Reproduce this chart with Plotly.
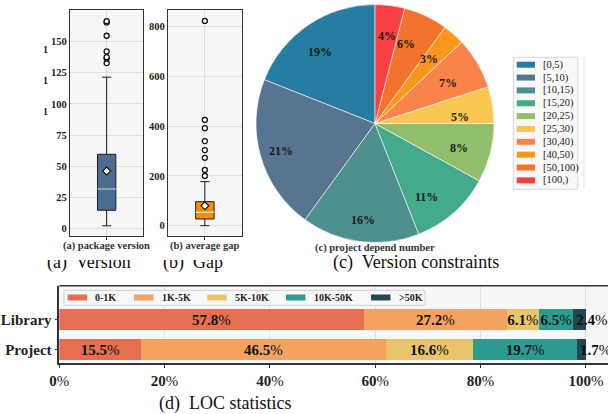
import math
import plotly.graph_objects as go

W, H = 608, 414
FONT = "Liberation Serif"

# ---------------- data ----------------
pkg_q = dict(low=2, q1=14.5, med=31.5, q3=59.5, high=121.5, mean=46)
pkg_outliers = [132.8, 136.6, 137.6, 142.2, 154.8, 165.5, 166.5]
pkg_ticks = [0, 25, 50, 75, 100, 125, 150]

gap_q = dict(low=0, q1=27, med=54, q3=96.5, high=177, mean=80)
gap_outliers = [200, 224, 273, 304, 340, 392, 425, 823]
gap_ticks = [0, 200, 400, 600, 800]

pie_labels = ["[0,5)", "[5,10)", "[10,15)", "[15,20)", "[20,25)",
              "[25,30)", "[30,40)", "[40,50)", "[50,100)", "[100,)"]
pie_values = [19, 21, 16, 11, 8, 5, 7, 3, 6, 4]

loc_groups = ["Library", "Project"]
loc_bins = ["0-1K", "1K-5K", "5K-10K", "10K-50K", ">50K"]
loc_library = [57.8, 27.2, 6.1, 6.5, 2.4]
loc_project = [15.5, 46.5, 16.6, 19.7, 1.7]
loc_ticks = [0, 20, 40, 60, 80, 100]

# ---------------- styles ----------------
pie_colors = ["#277da1", "#577590", "#4d908e", "#43aa8b", "#90be6d",
              "#f9c74f", "#f9844a", "#f8961e", "#f3722c", "#f94144"]
loc_colors = ["#e76f51", "#f4a261", "#e9c46a", "#2a9d8f", "#264653"]


def px(x):
    return x / W


def py(y):
    return 1 - y / H


fig = go.Figure()

# ---------------- box plots ----------------
BOX_W = 0.25
box_specs = [
    (pkg_q, pkg_outliers, "#4a6e91", "#a9c3da", "x", "y"),
    (gap_q, gap_outliers, "#ff8c00", "#ffe3bd", "x2", "y2"),
]
for q, outl, fillc, medc, xa, ya in box_specs:
    fig.add_trace(go.Box(
        x=[1], q1=[q["q1"]], median=[q["med"]], q3=[q["q3"]],
        lowerfence=[q["low"]], upperfence=[q["high"]],
        width=BOX_W, whiskerwidth=0.5, fillcolor=fillc,
        line=dict(color="#1a1a1a", width=1), boxpoints=False,
        xaxis=xa, yaxis=ya, showlegend=False, hoverinfo="skip"))
    fig.add_trace(go.Scatter(
        x=[1 - BOX_W / 2, 1 + BOX_W / 2], y=[q["med"], q["med"]],
        mode="lines", line=dict(color=medc, width=1.5),
        xaxis=xa, yaxis=ya, showlegend=False, hoverinfo="skip"))
    fig.add_trace(go.Scatter(
        x=[1] * len(outl), y=outl, mode="markers",
        marker=dict(symbol="circle", size=5, color="white",
                    line=dict(color="#111", width=1.3)),
        xaxis=xa, yaxis=ya, showlegend=False, hoverinfo="skip"))
    fig.add_trace(go.Scatter(
        x=[1], y=[q["mean"]], mode="markers",
        marker=dict(symbol="diamond", size=6, color="white",
                    line=dict(color="#111", width=1.2)),
        xaxis=xa, yaxis=ya, showlegend=False, hoverinfo="skip"))

box_axis_common = dict(showline=True, mirror=True, linecolor="#333",
                       linewidth=1.2, gridcolor="#dedede", zeroline=False)
ydom_box = [py(236), py(10)]
fig.update_layout(
    xaxis=dict(domain=[px(70), px(143.3)], range=[0.5, 1.5], tickvals=[1],
               showticklabels=False, ticks="outside", ticklen=3,
               tickcolor="#333", anchor="y", **box_axis_common),
    yaxis=dict(domain=ydom_box, range=[-6.2, 175.5], tickvals=pkg_ticks,
               anchor="x", tickfont=dict(family=FONT, size=10.5, color="#222",
                                         weight="bold"),
               **box_axis_common),
    xaxis2=dict(domain=[px(168), px(241.7)], range=[0.5, 1.5], tickvals=[1],
                showticklabels=False, ticks="outside", ticklen=3,
                tickcolor="#333", anchor="y2", **box_axis_common),
    yaxis2=dict(domain=ydom_box, range=[-41.4, 867], tickvals=gap_ticks,
                anchor="x2", tickfont=dict(family=FONT, size=10.5, color="#222",
                                           weight="bold"),
                **box_axis_common),
)

# ---------------- pie ----------------
pie_cx, pie_cy, pie_r = 375, 123.5, 119
pie_dom_x = [px(pie_cx - pie_r), px(pie_cx + pie_r)]
pie_dom_y = [py(pie_cy + pie_r), py(pie_cy - pie_r)]
total = sum(pie_values)
# first slice starts at 12 o'clock and runs counterclockwise
fig.add_trace(go.Pie(
    labels=pie_labels, values=pie_values, sort=False,
    direction="counterclockwise", rotation=-360 * pie_values[0] / total,
    textinfo="none",
    marker=dict(colors=pie_colors, line=dict(color="rgba(255,255,255,0.7)", width=0.8)),
    domain=dict(x=pie_dom_x, y=pie_dom_y), showlegend=False, hoverinfo="skip"))

annotations = []
cum = 0
for v in pie_values:
    frac = (cum + v / 2) / total
    ang = math.radians(90 + 360 * frac)
    r_lab = 0.82 * pie_r
    annotations.append(dict(
        x=px(pie_cx + r_lab * math.cos(ang)), y=py(pie_cy - r_lab * math.sin(ang)),
        xref="paper", yref="paper", showarrow=False,
        text="<b>%d%%</b>" % round(100 * v / total),
        font=dict(family=FONT, size=12, color="#1a1a1a")))
    cum += v

# pie legend (drawn)
shapes = []
shapes.append(dict(type="rect", xref="paper", yref="paper",
                   x0=px(513.3), x1=px(577.7), y0=py(189.3), y1=py(57.3),
                   fillcolor="#f9f9f9", line=dict(color="#d8d8d8", width=1)))
shapes.append(dict(type="line", xref="paper", yref="paper",
                   x0=px(584), x1=px(584), y0=py(189.3), y1=py(57.3),
                   line=dict(color="#e2e2e2", width=1)))
for i, (lab, col) in enumerate(zip(pie_labels, pie_colors)):
    yc = 64.7 + i * 12.85
    shapes.append(dict(type="rect", xref="paper", yref="paper",
                       x0=px(516.7), x1=px(535), y0=py(yc + 3), y1=py(yc - 3),
                       fillcolor=col, line=dict(width=0)))
    annotations.append(dict(x=px(541), y=py(yc), xref="paper", yref="paper",
                            xanchor="left", yanchor="middle", showarrow=False,
                            text=lab, font=dict(family=FONT, size=10.5, color="#222")))

# ---------------- LOC stacked bars ----------------
for i, b in enumerate(loc_bins):
    small = i == len(loc_bins) - 1
    fig.add_trace(go.Bar(
        y=loc_groups, x=[loc_library[i], loc_project[i]], orientation="h",
        name=b, marker=dict(color=loc_colors[i], line=dict(width=0)), width=0.7,
        texttemplate="<b>%{x:.1f}</b>%", textposition="inside",
        insidetextanchor="start" if small else "middle",
        constraintext="none", textangle=0,
        insidetextfont=dict(family=FONT, size=15, color="#111"),
        xaxis="x3", yaxis="y3", showlegend=False, hoverinfo="skip"))

bar_dom_y = [py(363.3), py(285.7)]
fig.update_layout(
    barmode="stack",
    xaxis3=dict(domain=[px(59.3), 1], range=[0, 104.2], tickvals=loc_ticks,
                ticktext=["<b>%d</b>%%" % t for t in loc_ticks],
                tickfont=dict(family=FONT, size=15, color="#222"),
                showline=True, linecolor="#333", linewidth=1.5,
                gridcolor="#e2e2e2", zeroline=False, anchor="y3",
                ticks="outside", ticklen=3, tickcolor="#333", automargin=False),
    yaxis3=dict(domain=bar_dom_y, type="category",
                categoryorder="array", categoryarray=["Project", "Library"],
                range=[-0.46, 2.127], anchor="x3", automargin=False,
                tickfont=dict(family=FONT, size=15, color="#222", weight="bold"),
                showline=True, linecolor="#333", linewidth=1.5,
                ticks="outside", ticklen=3, tickcolor="#333", showgrid=False),
)
shapes.append(dict(type="line", xref="paper", yref="paper",
                   x0=px(59.3), x1=1, y0=bar_dom_y[1], y1=bar_dom_y[1],
                   line=dict(color="#333", width=1.5)))

# bar legend (drawn)
shapes.append(dict(type="rect", xref="paper", yref="paper",
                   x0=px(64), x1=px(425), y0=py(305.3), y1=py(290.3),
                   fillcolor="#f9f9f9", line=dict(color="#d0d0d0", width=1)))
leg_patch_x = [67.7, 134, 207.3, 286, 371]
for b, col, x0 in zip(loc_bins, loc_colors, leg_patch_x):
    shapes.append(dict(type="rect", xref="paper", yref="paper",
                       x0=px(x0), x1=px(x0 + 19.5), y0=py(300.5), y1=py(294.5),
                       fillcolor=col, line=dict(width=0)))
    annotations.append(dict(x=px(x0 + 25.6), y=py(297.6), xref="paper", yref="paper",
                            xanchor="left", yanchor="middle", showarrow=False,
                            text="<b>%s</b>" % b.replace(">", "&gt;"),
                            font=dict(family=FONT, size=10, color="#222")))

# ---------------- captions ----------------
captions = [
    ("(a)  Version", 88.5, 262, 18, "#111"),
    ("(b)  Gap", 192.5, 262, 18, "#111"),
    ("(c)  Version constraints", 416, 262, 18, "#111"),
    ("(d)  LOC statistics", 225, 403, 18, "#111"),
]
for txt, x, y, s, c in captions:
    annotations.append(dict(x=px(x), y=py(y), xref="paper", yref="paper",
                            showarrow=False, text=txt, xanchor="center",
                            yanchor="middle", font=dict(family=FONT, size=s, color=c)))
# the upper part of the (a)/(b) captions is hidden under the sub-figure strip
annotations.append(dict(x=px(140), y=py(251.5), xref="paper", yref="paper",
                        xanchor="center", yanchor="top", showarrow=False,
                        text=" ", width=200, height=7.5, bgcolor="white",
                        borderpad=0, borderwidth=0))
small_caps = [
    ("<b>(a) package version</b>", 106.7, 246, 10.5, "#333"),
    ("<b>(b) average gap</b>", 204.5, 246, 10.5, "#333"),
    ("<b>(c) project depend number</b>", 375, 247.5, 10.5, "#333"),
]
for txt, x, y, s, c in small_caps:
    annotations.append(dict(x=px(x), y=py(y), xref="paper", yref="paper",
                            showarrow=False, text=txt, xanchor="center",
                            yanchor="middle", font=dict(family=FONT, size=s, color=c)))
for t in [150, 125, 100]:
    yv = 228.3 - t * 1.244
    annotations.append(dict(x=px(41), y=py(yv), xref="paper", yref="paper",
                            showarrow=False, text="<b>1</b>",
                            font=dict(family=FONT, size=10, color="#222")))

fig.update_layout(
    width=W, height=H, margin=dict(l=0, r=0, t=0, b=0),
    paper_bgcolor="white", plot_bgcolor="#f7f7f7",
    annotations=annotations, shapes=shapes,
    font=dict(family=FONT),
)

fig.write_html("out.html", config={"displayModeBar": False},
               post_script="document.body.style.margin='0';"
                           "document.body.style.overflow='hidden';")
